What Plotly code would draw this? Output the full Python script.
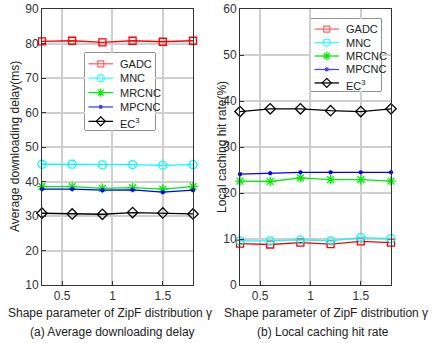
import plotly.graph_objects as go

x_vals = [0.3, 0.6, 0.9, 1.2, 1.5, 1.8]
series_names = ["GADC", "MNC", "MRCNC", "MPCNC", "EC<sup>3</sup>"]

delay_gadc = [80.6, 80.8, 80.3, 80.8, 80.5, 80.8]
delay_mnc = [45.0, 45.0, 44.8, 44.9, 44.7, 44.9]
delay_mrcnc = [38.5, 38.5, 38.0, 38.2, 37.8, 38.5]
delay_mpcnc = [37.8, 37.8, 37.5, 37.6, 36.9, 37.5]
delay_ec3 = [30.8, 30.6, 30.5, 31.0, 30.9, 30.6]

hit_gadc = [9.0, 8.8, 9.2, 8.9, 9.5, 9.2]
hit_mnc = [9.6, 9.6, 9.8, 9.6, 10.3, 10.1]
hit_mrcnc = [22.6, 22.5, 23.3, 22.9, 22.9, 22.6]
hit_mpcnc = [24.1, 24.3, 24.5, 24.5, 24.5, 24.5]
hit_ec3 = [37.7, 38.3, 38.3, 37.9, 37.7, 38.3]

x_ticks = [0.5, 1, 1.5]
x_ticklabels = ["0.5", "1", "1.5"]
left_yticks = [10, 20, 30, 40, 50, 60, 70, 80, 90]
right_yticks = [0, 10, 20, 30, 40, 50, 60]

colors = ["#ff0000", "#00ffff", "#00ee00", "#0000ff", "#000000"]
legend_colors = ["#ff6666", "#33ffff", "#00ee00", "#4444ff", "#000000"]
symbols = ["square-open", "circle-open", "asterisk-open", "circle", "diamond-open"]
msizes = [7, 8, 8, 3, 8]
legend_msizes = [6, 7, 7, 3, 7]

W, H = 436, 343
font_family = "Liberation Sans, Arial, sans-serif"

fig = go.Figure()
left_data = [delay_gadc, delay_mnc, delay_mrcnc, delay_mpcnc, delay_ec3]
right_data = [hit_gadc, hit_mnc, hit_mrcnc, hit_mpcnc, hit_ec3]

for data, xa, ya in [(left_data, "x", "y"), (right_data, "x2", "y2")]:
    for i, name in enumerate(series_names):
        fig.add_trace(go.Scatter(
            x=x_vals, y=data[i], name=name, mode="lines+markers",
            line=dict(color=colors[i], width=1.3),
            marker=dict(symbol=symbols[i], size=msizes[i], color=colors[i],
                        line=dict(color=colors[i], width=1.3)),
            xaxis=xa, yaxis=ya, cliponaxis=False, showlegend=False))

# custom compact legends (box in pixels: x0, y0, x1, y1)
legend_boxes = [(85, 53, 155, 130), (311, 19, 381, 91)]
legend_axes = [("x3", "y3"), ("x4", "y4")]
for (bx0, by0, bx1, by1), (xa, ya) in zip(legend_boxes, legend_axes):
    n = len(series_names)
    for i, name in enumerate(series_names):
        yrow = 1 - (i + 0.75) / (n + 0.35)
        fig.add_trace(go.Scatter(
            x=[0.05, 0.40], y=[yrow, yrow], mode="lines",
            line=dict(color=legend_colors[i], width=1.3),
            xaxis=xa, yaxis=ya, showlegend=False, hoverinfo="skip"))
        fig.add_trace(go.Scatter(
            x=[0.225], y=[yrow], mode="markers",
            marker=dict(symbol=symbols[i], size=legend_msizes[i], color=legend_colors[i],
                        line=dict(color=legend_colors[i], width=1.2)),
            xaxis=xa, yaxis=ya, showlegend=False, hoverinfo="skip"))
        fig.add_annotation(text=name, x=0.47, y=yrow, xref=xa, yref=ya,
                           xanchor="left", yanchor="middle", showarrow=False,
                           font=dict(size=11, family=font_family, color="#222222"),
                           yshift=-2 if i == n - 1 else 0)

axis_common = dict(showline=True, linecolor="#333333", linewidth=1, mirror=True,
                   ticks="inside", ticklen=4, tickcolor="#333333",
                   showgrid=True, gridcolor="#cfcfcf", gridwidth=1.5,
                   zeroline=False, tickfont=dict(size=12, color="#333333", family=font_family))
hidden = dict(visible=False, range=[0, 1], fixedrange=True)

ydom = [1 - 285 / H, 1 - 9 / H]
lb0, lb1 = legend_boxes
fig.update_layout(
    width=W, height=H,
    margin=dict(l=0, r=0, t=0, b=0, autoexpand=False),
    paper_bgcolor="white", plot_bgcolor="white",
    font=dict(family=font_family, size=12, color="#222222"),
    showlegend=False,
    xaxis=dict(domain=[42 / W, 193 / W], range=[0.3, 1.8], tickvals=x_ticks,
               ticktext=x_ticklabels, anchor="y", **axis_common),
    yaxis=dict(domain=ydom, range=[10, 90], tickvals=left_yticks, anchor="x", **axis_common),
    xaxis2=dict(domain=[240 / W, 391 / W], range=[0.3, 1.8], tickvals=x_ticks,
                ticktext=x_ticklabels, anchor="y2", **axis_common),
    yaxis2=dict(domain=ydom, range=[0, 60], tickvals=right_yticks, anchor="x2", **axis_common),
    xaxis3=dict(domain=[lb0[0] / W, lb0[2] / W], anchor="y3", **hidden),
    yaxis3=dict(domain=[1 - lb0[3] / H, 1 - lb0[1] / H], anchor="x3", **hidden),
    xaxis4=dict(domain=[lb1[0] / W, lb1[2] / W], anchor="y4", **hidden),
    yaxis4=dict(domain=[1 - lb1[3] / H, 1 - lb1[1] / H], anchor="x4", **hidden),
)

for (bx0, by0, bx1, by1) in legend_boxes:
    fig.add_shape(type="rect", xref="paper", yref="paper",
                  x0=bx0 / W, x1=bx1 / W, y0=1 - by1 / H, y1=1 - by0 / H,
                  line=dict(color="#222222", width=1), fillcolor="white", layer="below")

ann_font = dict(size=12, family=font_family, color="#222222")
texts = [
    ("Average downloading delay(ms)", 15, 147, -90, ann_font),
    ("Local caching hit rate(%)", 222, 147, -90, ann_font),
    ("Shape parameter of ZipF distribution γ", 110, 313, 0, ann_font),
    ("Shape parameter of ZipF distribution γ", 326, 313, 0, ann_font),
    ("(a) Average downloading delay", 112, 332, 0, ann_font),
    ("(b) Local caching hit rate", 323, 332, 0, ann_font),
]
for text, px, py, ang, fnt in texts:
    fig.add_annotation(text=text, x=px / W, y=1 - py / H, xref="paper", yref="paper",
                       xanchor="center", yanchor="middle", textangle=ang,
                       showarrow=False, font=fnt)

fig.write_html("out.html", post_script="document.body.style.margin='0';",
               config={"displayModeBar": False})
